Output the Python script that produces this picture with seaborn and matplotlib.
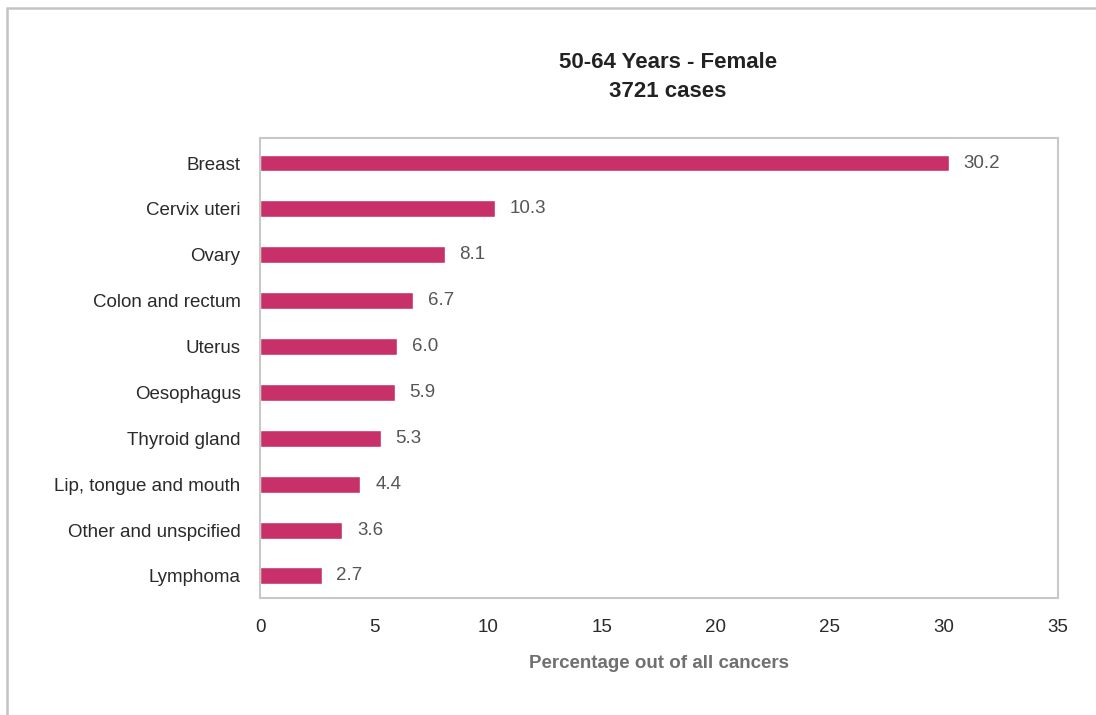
import matplotlib
matplotlib.use("Agg")
import matplotlib.pyplot as plt
import seaborn as sns
import pandas as pd
from matplotlib.patches import Rectangle

categories = ["Breast", "Cervix uteri", "Ovary", "Colon and rectum", "Uterus",
              "Oesophagus", "Thyroid gland", "Lip, tongue and mouth",
              "Other and unspcified", "Lymphoma"]
values = [30.2, 10.3, 8.1, 6.7, 6.0, 5.9, 5.3, 4.4, 3.6, 2.7]
xticks = [0, 5, 10, 15, 20, 25, 30, 35]
title = "50-64 Years - Female\n3721 cases"
xlabel = "Percentage out of all cancers"

sns.set_theme(style="white")
plt.rcParams['font.family'] = ['Liberation Sans Narrow', 'Liberation Sans', 'DejaVu Sans']

df = pd.DataFrame({"cat": categories, "val": values})

fig = plt.figure(figsize=(10.96, 7.15), dpi=100)
fig.patches.append(Rectangle((7/1096, -0.5), 1.5, 1.5 - 8/715, transform=fig.transFigure,
                             fill=False, edgecolor="#c4c4c4", linewidth=1.8, zorder=0))
ax = fig.add_axes([260/1096, 1 - 598/715, (1058-260)/1096, (598-138)/715])
sns.barplot(data=df, x="val", y="cat", color="#C8306A", saturation=1, width=0.37, ax=ax, orient="h")

ax.set_xlim(0, 35)
ax.set_ylim(9.48, -0.545)
ax.set_xticks(xticks)
ax.set_xticklabels([str(t) for t in xticks], fontsize=13.5, color="#2a2a2a")
ax.tick_params(axis="y", labelsize=13.5, labelcolor="#2a2a2a", length=0, pad=14)
ax.tick_params(axis="x", length=0, pad=15)
ax.set_ylabel("")
ax.set_xlabel(xlabel, fontsize=13.5, fontweight="bold", color="#707070", labelpad=14)
for s in ax.spines.values():
    s.set_color("#c8c8c8")
    s.set_linewidth(1.5)

for i, v in enumerate(values):
    ax.text(v + 0.65, i, f"{v:.1f}", va="center", ha="left", fontsize=13.5, color="#555555")

fig.text(668/1096, 1 - 77/715, title, ha="center", va="center", fontsize=16,
         fontweight="bold", color="#222222", linespacing=1.45)

fig.savefig("out.png", dpi=100)
